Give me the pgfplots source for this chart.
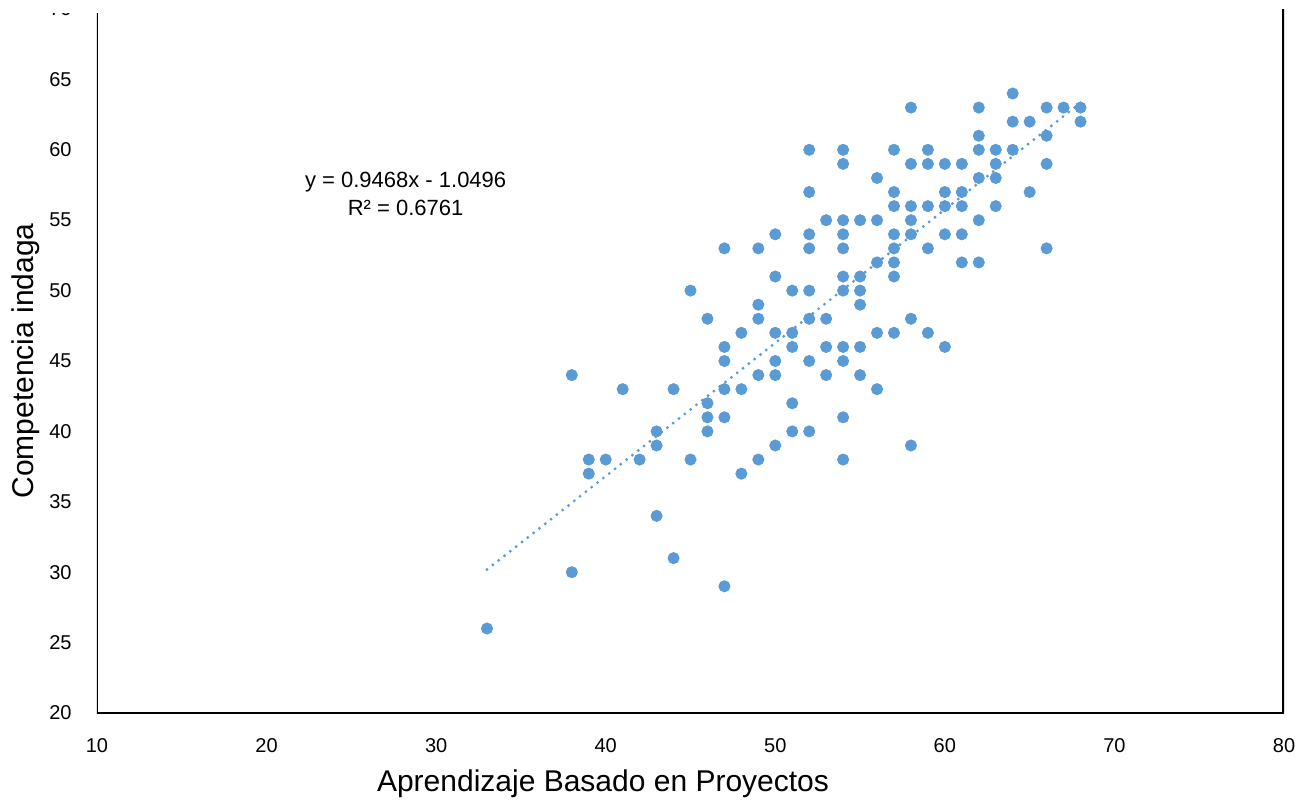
\documentclass[border=0pt]{standalone}
\usepackage{fontspec}
\setmainfont{Liberation Sans}
\usepackage{pgfplots}
\pgfplotsset{compat=1.18}
\usepackage{pgfplotstable}
\definecolor{ptblue}{RGB}{91,155,213}

% ABP (x) vs competencia indaga (y)
\pgfplotstableread{
x y
33 26
38 44
38 30
39 38
39 37
40 38
41 43
42 38
43 40
43 39
43 34
44 43
44 31
45 50
45 38
46 48
46 42
46 41
46 40
47 53
47 46
47 45
47 43
47 41
47 29
48 47
48 43
48 37
49 53
49 49
49 48
49 44
49 38
50 54
50 51
50 47
50 45
50 44
50 39
51 50
51 47
51 46
51 42
51 40
52 60
52 57
52 54
52 53
52 50
52 48
52 45
52 40
53 55
53 48
53 46
53 44
54 60
54 59
54 55
54 54
54 53
54 51
54 50
54 46
54 45
54 41
54 38
55 55
55 51
55 50
55 49
55 46
55 44
56 58
56 55
56 52
56 47
56 43
57 60
57 57
57 56
57 54
57 53
57 52
57 51
57 47
58 63
58 59
58 56
58 55
58 54
58 48
58 39
59 60
59 59
59 56
59 53
59 47
60 59
60 57
60 56
60 54
60 46
61 59
61 57
61 56
61 54
61 52
62 63
62 61
62 60
62 58
62 55
62 52
63 60
63 59
63 58
63 56
64 64
64 62
64 60
65 62
65 57
66 63
66 61
66 59
66 53
67 63
68 63
68 62
}\puntos

\begin{document}
\begin{tikzpicture}
\begin{axis}[
  at={(0,0)}, anchor=south west,
  scale only axis, width=593.5pt, height=352pt,
  xmin=10, xmax=80, ymin=20, ymax=70,
  xtick={10,20,...,80}, ytick={20,25,...,70},
  axis line style={draw=none},
  tick style={draw=none},
  major tick length=0pt,
  /pgf/number format/assume math mode=true,
  tick label style={font=\fontsize{10}{12}\selectfont},
  yticklabel style={xshift=-9.2pt},
  xticklabel style={yshift=-9pt},
  xlabel={Aprendizaje Basado en Proyectos},
  ylabel={Competencia indaga},
  xlabel style={at={(axis description cs:0.4263,-0.1122)}, anchor=base, font=\fontsize{15}{18}\selectfont},
  ylabel style={at={(axis description cs:-0.0531,0.5)}, anchor=base, font=\fontsize{15}{18}\selectfont},
]
\draw[line width=1.1pt, black] (rel axis cs:0,1) -- (rel axis cs:0,0) -- (rel axis cs:1,0);
\draw[line width=1.6pt, black] (rel axis cs:1,0) -- (rel axis cs:1,1.02);
\addplot[only marks, mark=*, mark size=2.8pt, mark options={draw=ptblue, fill=ptblue}] table {\puntos};
% linea de tendencia
\addplot[ptblue, line width=1.6pt, line cap=round, dash pattern=on 0pt off 3.7pt] coordinates {(33,30.195) (68,63.333)};
\node[align=center, font=\fontsize{11}{14}\selectfont] at (axis cs:28.2,56.9) {y = 0.9468x - 1.0496\\R² = 0.6761};
\end{axis}
% recorte superior como en la imagen original
\fill[white] (-48.5pt,350pt) rectangle (580pt,357pt);
\pgfresetboundingbox
\path[use as bounding box] (-48.5pt,-43pt) rectangle (601pt,356.5pt);
\end{tikzpicture}
\end{document}
